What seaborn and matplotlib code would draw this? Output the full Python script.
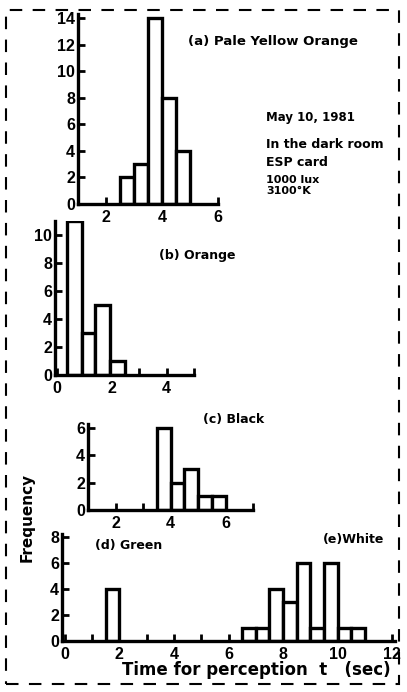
import numpy as np
import matplotlib
matplotlib.use("Agg")
import matplotlib.pyplot as plt
import seaborn as sns
from matplotlib.patches import Rectangle

# bin edges (sec) and frequencies
a_edges = [2.5, 3.0, 3.5, 4.0, 4.5, 5.0]
a_counts = [2, 3, 14, 8, 4]

b_edges = [0.35, 0.9, 1.4, 1.95, 2.5]
b_counts = [11, 3, 5, 1]

c_edges = [3.5, 4.0, 4.5, 5.0, 5.5, 6.0]
c_counts = [6, 2, 3, 1, 1]

d_edges = [1.5, 2.0]
d_counts = [4]

e_edges = [6.5, 7.0, 7.5, 8.0, 8.5, 9.0, 9.5, 10.0, 10.5, 11.0]
e_counts = [1, 1, 4, 3, 6, 1, 6, 1, 1]

sns.set_theme(style="ticks")
plt.rcParams['font.family'] = ['Liberation Sans', 'DejaVu Sans']
plt.rcParams['font.weight'] = 'bold'
for key in ("text.color", "axes.labelcolor", "xtick.color", "ytick.color", "axes.edgecolor"):
    plt.rcParams[key] = "black"

W, H = 407, 692
fig = plt.figure(figsize=(W / 100, H / 100), dpi=100)


def px_axes(left, right, bottom, top):
    # pixel box -> figure fraction
    return fig.add_axes([left / W, (H - bottom) / H, (right - left) / W, (bottom - top) / H])


def draw_hist(ax, edges, counts):
    centers = [(lo + hi) / 2 for lo, hi in zip(edges[:-1], edges[1:])]
    sns.histplot(x=centers, weights=list(counts), bins=list(edges), ax=ax,
                 color="white", edgecolor="black", linewidth=2.4, alpha=1)


def style_axes(ax, xlim, ylim, xticks, xlabels, yticks):
    ax.set_xlim(*xlim)
    ax.set_ylim(*ylim)
    ax.set_xticks(xticks)
    ax.set_xticklabels(xlabels)
    ax.set_yticks(yticks)
    ax.set_xlabel("")
    ax.set_ylabel("")
    ax.set_facecolor("none")
    sns.despine(ax=ax)
    for s in ("left", "bottom"):
        ax.spines[s].set_linewidth(2.4)
        ax.spines[s].set_color("black")
    ax.tick_params(direction="in", length=5, width=2, labelsize=11.5, pad=2, colors="black")
    ax.tick_params(axis="x", pad=4)
    for t in ax.get_xticklabels() + ax.get_yticklabels():
        t.set_fontweight("bold")


# (a)
ax_a = px_axes(78, 218, 204, 14)
draw_hist(ax_a, a_edges, a_counts)
style_axes(ax_a, (1, 6), (0, 14.3), [1, 2, 3, 4, 5, 6], ["", "2", "", "4", "", "6"],
           [0, 2, 4, 6, 8, 10, 12, 14])

# (b)
ax_b = px_axes(55, 194, 375, 221)
draw_hist(ax_b, b_edges, b_counts)
style_axes(ax_b, (-0.07, 5), (0, 11), [0, 1, 2, 3, 4, 5], ["0", "", "2", "", "4", ""],
           [0, 2, 4, 6, 8, 10])

# (c)
ax_c = px_axes(88, 253, 510, 424)
draw_hist(ax_c, c_edges, c_counts)
style_axes(ax_c, (1, 7), (0, 6.3), [1, 2, 3, 4, 5, 6, 7], ["", "2", "", "4", "", "6", ""],
           [0, 2, 4, 6])

# (d) and (e)
ax_d = px_axes(62, 395, 641, 534)
draw_hist(ax_d, d_edges, d_counts)
draw_hist(ax_d, e_edges, e_counts)
style_axes(ax_d, (-0.1, 12.1), (0, 8.2), list(range(0, 13)),
           [str(v) if v % 2 == 0 else "" for v in range(0, 13)], [0, 2, 4, 6, 8])

# annotations
def ftext(x, y, s, size=9, **kw):
    fig.text(x / W, 1 - y / H, s, fontsize=size, fontweight="bold", va="center",
             family=["DejaVu Sans"], color="black", **kw)


ftext(188, 42, "(a) Pale Yellow Orange", size=9.5)
ftext(266, 118, "May 10, 1981", size=8.5)
ftext(266, 145, "In the dark room")
ftext(266, 163, "ESP card")
ftext(266, 180, "1000 lux", size=8)
ftext(266, 191, "3100°K", size=8)
ftext(159, 255, "(b) Orange")
ftext(203, 420, "(c) Black")
ftext(95, 546, "(d) Green")
ftext(323, 540, "(e)White")
ftext(27, 517, "Frequency", size=11, rotation=90, ha="center")
ftext(256, 670, "Time for perception  t   (sec)", size=12, ha="center")

# dashed page border from the scan
fig.patches.append(Rectangle((6 / W, 1 - 684 / H), 393 / W, 674 / H, transform=fig.transFigure,
                             fill=False, edgecolor="black", linewidth=1.5, linestyle=(0, (6, 5))))

fig.savefig("out.png", dpi=100)
